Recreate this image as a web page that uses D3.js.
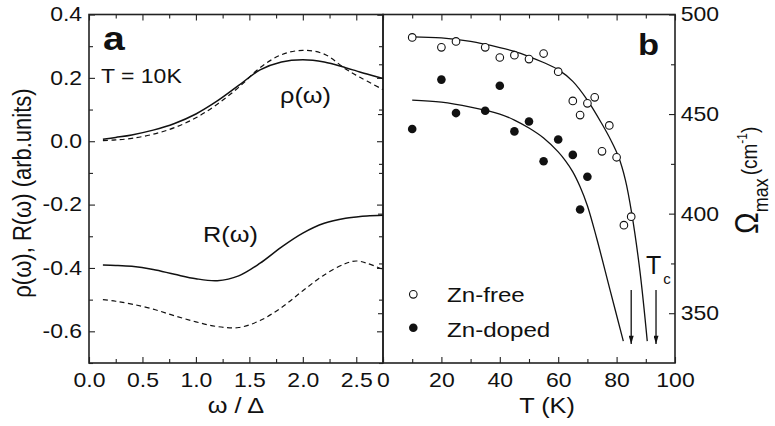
<!DOCTYPE html>
<html>
<head>
<meta charset="utf-8">
<script src="https://cdnjs.cloudflare.com/ajax/libs/d3/7.8.5/d3.min.js"></script>
<style>
  body { margin: 0; background: #fff; }
  svg { display: block; background: #fff; }
  text { font-family: "Liberation Sans", Arial, Helvetica, sans-serif; fill: #111; }
</style>
</head>
<body>
<div id="chart"></div>
<script>
// panel a: rho(w) and R(w) at T = 10K, solid and dashed
var omega     = [0.13, 0.25, 0.4, 0.6, 0.8, 1.0, 1.2, 1.4, 1.6, 1.8, 2.0, 2.2, 2.4, 2.5, 2.6, 2.75];
var rhoSolid  = [0.006, 0.012, 0.02, 0.035, 0.056, 0.086, 0.127, 0.176, 0.225, 0.250, 0.257, 0.250, 0.232, 0.222, 0.212, 0.198];
var rhoDashed = [0.002, 0.004, 0.009, 0.022, 0.043, 0.074, 0.117, 0.170, 0.232, 0.273, 0.287, 0.275, 0.228, 0.208, 0.190, 0.163];
var rSolid    = [-0.391, -0.392, -0.395, -0.405, -0.420, -0.434, -0.440, -0.425, -0.385, -0.334, -0.290, -0.259, -0.243, -0.239, -0.236, -0.234];
var rDashed   = [-0.500, -0.505, -0.514, -0.530, -0.551, -0.570, -0.585, -0.588, -0.566, -0.525, -0.472, -0.422, -0.386, -0.378, -0.385, -0.405];

// panel b: Omega_max vs T
var tFree     = [10, 20, 25, 35, 40, 45, 50, 55, 60, 65, 67.5, 70, 72.5, 75, 77.5, 80, 82.5, 85];
var omegaFree = [488.5, 483.5, 486.5, 483.5, 478.4, 479.6, 477.6, 480.4, 471.3, 456.6, 449.5, 455.4, 458.4, 431.3, 444.3, 428.3, 394.2, 398.5];
var tDoped     = [10, 20, 25, 35, 40, 45, 50, 55, 60, 65, 67.5, 70];
var omegaDoped = [442.5, 467.3, 450.5, 451.7, 464.2, 441.3, 446.3, 426.3, 437.2, 429.5, 402.1, 418.5];

// fitted curves as drawn
var fitFreeT = [10, 20, 30, 40, 45, 50, 55, 60, 65, 70, 75, 78, 80.6, 83, 85.2, 88, 90.5];
var fitFreeY = [488.8, 488.3, 486.5, 483.4, 481.5, 478.9, 475.9, 472.3, 466.4, 457, 445, 437, 428.8, 417, 400, 371, 336];
var fitDopedT = [10, 20, 30, 40, 45, 50, 55, 60, 62.5, 65, 67.5, 70, 73.2, 77.7, 82.3];
var fitDopedY = [457, 456, 453.5, 450, 447, 443, 438, 431, 426.5, 421, 413.5, 404, 387.5, 362, 336];

var tcArrows = [85, 93.5];
var tcArrowTop = 361.7, tcArrowBottom = 334.5;

var leftXTicks = [0, 0.5, 1, 1.5, 2, 2.5];
var leftXMinor = [0.25, 0.75, 1.25, 1.75, 2.25, 2.75];
var leftYTicks = [-0.6, -0.4, -0.2, 0, 0.2, 0.4];
var leftYMinor = [-0.7, -0.5, -0.3, -0.1, 0.1, 0.3];
var rightXTicks = [0, 20, 40, 60, 80, 100];
var rightXMinor = [10, 30, 50, 70, 90];
var rightYTicks = [350, 400, 450, 500];
var rightYMinor = [375, 425, 475];

var W = 775, H = 426;
var top_ = 14.5, bottom = 363;
var stretch = 1.15;   // the scan is a bit wide, text looks stretched

var svg = d3.select("#chart").append("svg").attr("width", W).attr("height", H);

var xL = d3.scaleLinear().domain([0, 2.75]).range([89, 383]);
var yL = d3.scaleLinear().domain([-0.7, 0.4]).range([bottom, top_]);
var xR = d3.scaleLinear().domain([0, 100]).range([383, 675]);
var yR = d3.scaleLinear().domain([325, 500]).range([bottom, top_]);

function drawAxis(axisFn, scale, values, size, fmt, transform, padding) {
    var g = svg.append("g")
        .attr("transform", transform)
        .call(axisFn(scale).tickValues(values).tickSize(size).tickPadding(padding || 0).tickFormat(fmt || ""));
    g.attr("font-size", 20).attr("font-family", null);
    g.select(".domain").remove();
    g.selectAll(".tick line").attr("stroke", "#222").attr("stroke-width", 1.1);
    g.selectAll(".tick text").attr("fill", "#111").attr("transform", "scale(" + stretch + ",1)");
    return g;
}

var f1 = function (d) { return d.toFixed(1); };
var f0 = function (d) { return String(d); };

// panel a axes
drawAxis(d3.axisLeft, yL, leftYTicks, -6, f1, "translate(89,0)", 6);
drawAxis(d3.axisLeft, yL, leftYMinor, -4, null, "translate(89,0)");
drawAxis(d3.axisRight, yL, leftYTicks, -6, null, "translate(383,0)");
drawAxis(d3.axisRight, yL, leftYMinor, -4, null, "translate(383,0)");
drawAxis(d3.axisBottom, xL, leftXTicks, -6, f1, "translate(0," + bottom + ")", 10);
drawAxis(d3.axisBottom, xL, leftXMinor, -4, null, "translate(0," + bottom + ")");
drawAxis(d3.axisTop, xL, leftXTicks, -6, null, "translate(0," + top_ + ")");
drawAxis(d3.axisTop, xL, leftXMinor, -4, null, "translate(0," + top_ + ")");

// panel b axes
drawAxis(d3.axisRight, yR, rightYTicks, -6, f0, "translate(675,0)", 5);
drawAxis(d3.axisRight, yR, rightYMinor, -4, null, "translate(675,0)");
drawAxis(d3.axisLeft, yR, rightYTicks, 5, null, "translate(383,0)");
drawAxis(d3.axisLeft, yR, rightYMinor, 4, null, "translate(383,0)");
drawAxis(d3.axisBottom, xR, rightXTicks, -6, f0, "translate(0," + bottom + ")", 10);
drawAxis(d3.axisBottom, xR, rightXMinor, -4, null, "translate(0," + bottom + ")");
drawAxis(d3.axisTop, xR, rightXTicks, -6, null, "translate(0," + top_ + ")");
drawAxis(d3.axisTop, xR, rightXMinor, -4, null, "translate(0," + top_ + ")");

// frames
svg.append("rect").attr("x", xL(0)).attr("y", top_).attr("width", xL(2.75) - xL(0)).attr("height", bottom - top_)
    .attr("fill", "none").attr("stroke", "#222").attr("stroke-width", 1.6);
svg.append("rect").attr("x", xR(0)).attr("y", top_).attr("width", xR(100) - xR(0)).attr("height", bottom - top_)
    .attr("fill", "none").attr("stroke", "#222").attr("stroke-width", 1.6);

// panel a curves
var lineL = d3.line().x(function (d) { return xL(d[0]); }).y(function (d) { return yL(d[1]); }).curve(d3.curveCatmullRom.alpha(0.5));
[[rhoSolid, null], [rhoDashed, "5,3.5"], [rSolid, null], [rDashed, "5,3.5"]].forEach(function (s) {
    svg.append("path")
        .attr("d", lineL(d3.zip(omega, s[0])))
        .attr("fill", "none").attr("stroke", "#111").attr("stroke-width", s[1] ? 1.2 : 1.5)
        .attr("stroke-dasharray", s[1]);
});

// panel b fits
var lineR = d3.line().x(function (d) { return xR(d[0]); }).y(function (d) { return yR(d[1]); }).curve(d3.curveCatmullRom.alpha(0.5));
[[fitFreeT, fitFreeY], [fitDopedT, fitDopedY]].forEach(function (s) {
    svg.append("path")
        .attr("d", lineR(d3.zip(s[0], s[1])))
        .attr("fill", "none").attr("stroke", "#111").attr("stroke-width", 1.3);
});

// panel b points
svg.append("g").selectAll("circle").data(d3.zip(tFree, omegaFree)).join("circle")
    .attr("cx", function (d) { return xR(d[0]); }).attr("cy", function (d) { return yR(d[1]); })
    .attr("r", 3.8).attr("fill", "#fff").attr("stroke", "#111").attr("stroke-width", 1.1);
svg.append("g").selectAll("circle").data(d3.zip(tDoped, omegaDoped)).join("circle")
    .attr("cx", function (d) { return xR(d[0]); }).attr("cy", function (d) { return yR(d[1]); })
    .attr("r", 4.3).attr("fill", "#111");

// Tc arrows
svg.append("defs").append("marker")
    .attr("id", "arrow").attr("viewBox", "0 0 10 6").attr("refX", 10).attr("refY", 3)
    .attr("markerWidth", 10).attr("markerHeight", 5).attr("markerUnits", "userSpaceOnUse").attr("orient", "auto")
    .append("path").attr("d", "M0,0 L10,3 L0,6 Z").attr("fill", "#111");
tcArrows.forEach(function (t) {
    svg.append("line")
        .attr("x1", xR(t)).attr("x2", xR(t)).attr("y1", yR(tcArrowTop)).attr("y2", yR(tcArrowBottom))
        .attr("stroke", "#111").attr("stroke-width", 1.3).attr("marker-end", "url(#arrow)");
});

function txt(x, y, str, size, opts) {
    opts = opts || {};
    var t = svg.append("text")
        .attr("transform", "translate(" + x + "," + y + ")" + (opts.rotate ? " rotate(-90) scale(1," + stretch + ")" : " scale(" + (opts.sx || stretch) + ",1)"))
        .attr("font-size", size)
        .attr("text-anchor", opts.anchor || "start")
        .attr("font-weight", opts.bold ? "bold" : null);
    if (str) t.text(str);
    return t;
}

// panel a labels
txt(103, 50, "a", 34, { bold: true });
txt(101, 82.5, "T = 10K", 20);
txt(280, 103, "ρ(ω)", 22);
txt(203, 242, "R(ω)", 22);
txt(236, 413, "ω / Δ", 22, { anchor: "middle" });
txt(31, 193, "ρ(ω), R(ω)  (arb.units)", 22, { rotate: true, anchor: "middle" });

// panel b labels
txt(638, 55, "b", 30, { bold: true });
txt(547, 413, "T (K)", 22, { anchor: "middle" });
txt(447, 301.7, "Zn-free", 21);
txt(447, 336.7, "Zn-doped", 21);
svg.append("circle").attr("cx", 413.3).attr("cy", 294.3).attr("r", 3.8).attr("fill", "#fff").attr("stroke", "#111").attr("stroke-width", 1.1);
svg.append("circle").attr("cx", 413.3).attr("cy", 327.7).attr("r", 4.3).attr("fill", "#111");

var tc = txt(646, 273.5, null, 25, { sx: 1 });
tc.append("tspan").text("T");
tc.append("tspan").attr("font-size", 15).attr("dx", 2).attr("dy", 10).text("c");

var yt = txt(758, 234, null, 29, { rotate: true });
yt.append("tspan").text("Ω");
yt.append("tspan").attr("font-size", 18).attr("dy", 9).text("max");
yt.append("tspan").attr("font-size", 19).attr("dy", -10).attr("dx", 3).text("(cm");
yt.append("tspan").attr("font-size", 12).attr("dy", -9).text("-1");
yt.append("tspan").attr("font-size", 19).attr("dy", 9).text(")");
</script>
</body>
</html>
